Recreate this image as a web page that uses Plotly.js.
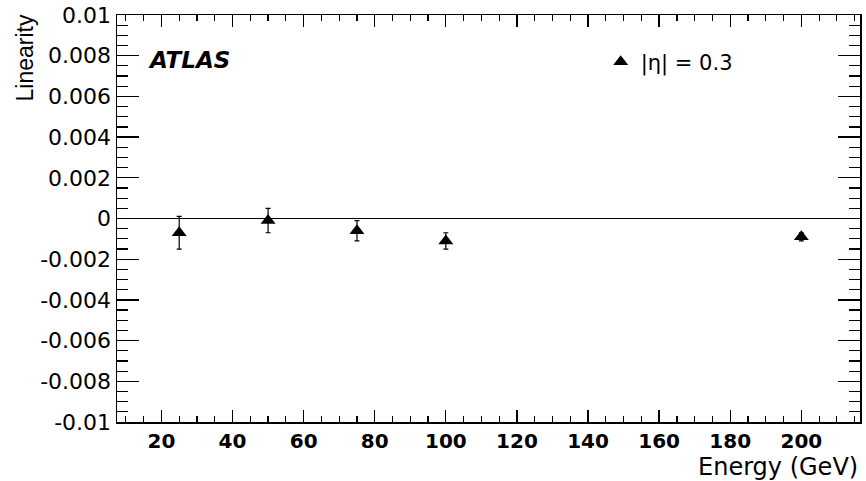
<!DOCTYPE html>
<html>
<head>
<meta charset="utf-8">
<script src="https://cdn.plot.ly/plotly-3.0.1.min.js"></script>
<style>html,body{margin:0;padding:0;background:#fff;}#chart{width:866px;height:481px;}</style>
</head>
<body>
<div id="chart"></div>
<script>
// Data
const energy = [25, 50, 75, 100, 200];
const linearity = [-0.0007, -0.0001, -0.0006, -0.0011, -0.0009];
const linErr = [0.0008, 0.0006, 0.0005, 0.0004, 0.0002];
const seriesName = '|η| = 0.3';

const yTickVals = [-0.01, -0.008, -0.006, -0.004, -0.002, 0, 0.002, 0.004, 0.006, 0.008, 0.01];
const yTickText = ['-0.01', '-0.008', '-0.006', '-0.004', '-0.002', '0', '0.002', '0.004', '0.006', '0.008', '0.01'];
const xTickVals = [20, 40, 60, 80, 100, 120, 140, 160, 180, 200];
const xTickText = ['20', '40', '60', '80', '100', '120', '140', '160', '180', '200'];

const trace = {
  x: energy,
  y: linearity,
  type: 'scatter',
  mode: 'markers',
  name: seriesName,
  marker: {symbol: 'triangle-up', size: 13, color: '#000'},
  error_y: {type: 'data', array: linErr, visible: true, color: '#000', thickness: 1.2, width: 2.5}
};

const layout = {
  width: 866, height: 481,
  margin: {l: 117, r: 6, t: 15, b: 59},
  paper_bgcolor: '#fff', plot_bgcolor: '#fff',
  showlegend: true,
  legend: {
    x: 0.651, xanchor: 'left', y: 0.884, yanchor: 'middle',
    bgcolor: 'rgba(0,0,0,0)', borderwidth: 0,
    font: {family: 'DejaVu Sans', size: 21, color: '#000'},
    itemwidth: 30
  },
  xaxis: {
    range: [7.5, 216.5],
    tickmode: 'array', tickvals: xTickVals, ticktext: xTickText,
    ticks: 'inside', ticklen: 12, tickwidth: 1.3, tickcolor: '#000',
    showline: true, linecolor: '#000', linewidth: 1.5, mirror: 'ticks',
    showgrid: false, zeroline: false,
    tickfont: {family: 'DejaVu Sans', size: 20, color: '#000', weight: 'bold'},
    minor: {dtick: 5, tick0: 0, ticks: 'inside', ticklen: 6, tickwidth: 1.2, tickcolor: '#000', showgrid: false}
  },
  yaxis: {
    range: [-0.01, 0.01],
    tickmode: 'array', tickvals: yTickVals, ticktext: yTickText,
    ticks: 'inside', ticklen: 22, tickwidth: 1.3, tickcolor: '#000',
    showline: true, linecolor: '#000', linewidth: 1.5, mirror: 'ticks',
    showgrid: false, zeroline: true, zerolinecolor: '#000', zerolinewidth: 1.5,
    tickfont: {family: 'DejaVu Sans', size: 22, color: '#000'},
    minor: {dtick: 0.0005, tick0: 0, ticks: 'inside', ticklen: 11, tickwidth: 1.2, tickcolor: '#000', showgrid: false}
  },
  annotations: [
    {text: 'ATLAS', xref: 'paper', yref: 'paper', x: (146 - 117) / 743, xanchor: 'left',
     y: (422 - 60) / 407, yanchor: 'middle', showarrow: false,
     font: {family: 'DejaVu Sans', size: 23, color: '#000', weight: 'bold', style: 'italic'}},
    {text: 'Energy (GeV)', xref: 'paper', yref: 'paper', x: 1, xanchor: 'right',
     y: -(467 - 422) / 407, yanchor: 'middle', showarrow: false,
     font: {family: 'DejaVu Sans', size: 24, color: '#000'}},
    {text: 'Linearity', xref: 'paper', yref: 'paper', x: (24 - 117) / 743, xanchor: 'center',
     y: 1 + 2 / 407, yanchor: 'top', showarrow: false, textangle: -90,
     font: {family: 'Liberation Sans', size: 23, color: '#000'}}
  ]
};

Plotly.newPlot('chart', [trace], layout, {displayModeBar: false, staticPlot: true});
</script>
</body>
</html>
